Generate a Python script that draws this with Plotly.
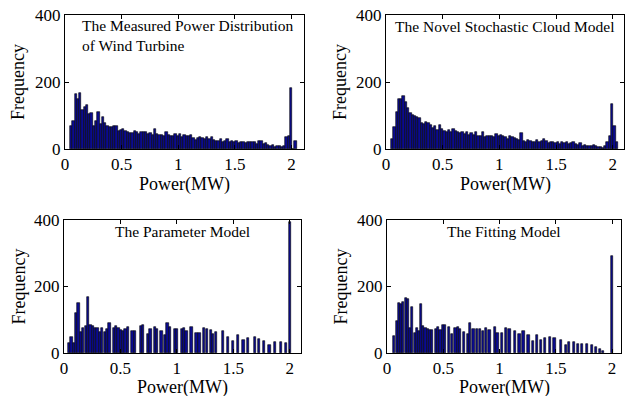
import plotly.graph_objects as go

W, H = 625, 396
FONT = "Liberation Serif"

# ---------------- data ----------------
# Measured power distribution (bins of 0.02 MW starting at 0.055 MW)
measured_start = 0.055
measured_step = 0.02
measured = [70, 85, 165, 150, 168, 115, 125, 130, 105, 108,
            70, 85, 110, 75, 95, 78, 68, 67, 65, 68,
            68, 55, 58, 60, 55, 50, 48, 48, 55, 50,
            45, 52, 50, 52, 45, 48, 42, 60, 45, 42,
            42, 40, 50, 42, 40, 40, 45, 40, 45, 35,
            42, 38, 40, 42, 32, 28, 32, 35, 32, 30,
            35, 30, 35, 28, 25, 25, 30, 22, 25, 30,
            22, 25, 22, 25, 18, 20, 22, 18, 20, 20,
            20, 22, 15, 25, 25, 15, 18, 12, 10, 12,
            5, 10, 8, 5, 8, 35, 40, 183, 0, 25]

# Novel stochastic cloud model (bins of 0.02 MW starting at 0.055 MW)
cloud_start = 0.055
cloud_step = 0.02
cloud = [30, 65, 110, 150, 148, 158, 140, 122, 108, 103,
         98, 96, 92, 78, 75, 80, 78, 72, 62, 68,
         58, 72, 60, 55, 52, 58, 50, 60, 55, 52,
         48, 52, 45, 50, 42, 48, 42, 50, 40, 38,
         50, 35, 40, 38, 40, 35, 45, 40, 42, 38,
         35, 30, 38, 35, 32, 30, 28, 48, 25, 22,
         28, 25, 20, 22, 28, 22, 25, 30, 25, 18,
         22, 20, 18, 22, 15, 20, 18, 22, 15, 18,
         20, 15, 12, 18, 10, 12, 8, 10, 8, 12,
         10, 5, 5, 3, 8, 20, 40, 135, 68, 20]

# Parameter model
param_x = [0.045, 0.066, 0.087, 0.108, 0.129, 0.150, 0.171, 0.192, 0.213, 0.234,
           0.255, 0.276, 0.297, 0.318, 0.339, 0.360, 0.381, 0.402, 0.440, 0.461,
           0.482, 0.503, 0.524, 0.545, 0.566, 0.606, 0.627, 0.680, 0.700, 0.745,
           0.766, 0.805, 0.826, 0.864, 0.897, 0.917, 0.938, 0.982, 1.003, 1.044,
           1.062, 1.086, 1.130, 1.174, 1.200, 1.240, 1.270, 1.300, 1.320, 1.350,
           1.410, 1.450, 1.500, 1.540, 1.590, 1.630, 1.690, 1.730, 1.770, 1.820,
           1.870, 1.920, 1.970, 2.000]
param_y = [31, 49, 31, 119, 149, 64, 74, 82, 167, 83,
           81, 74, 74, 64, 74, 64, 71, 89, 74, 82,
           74, 69, 66, 71, 79, 67, 67, 82, 84, 56,
           72, 78, 72, 66, 54, 89, 79, 71, 72, 72,
           74, 67, 79, 61, 59, 74, 73, 69, 56, 64,
           67, 48, 36, 55, 39, 46, 47, 42, 36, 24,
           32, 33, 31, 394]

# Fitting model
fit_x = [0.065, 0.086, 0.104, 0.124, 0.145, 0.166, 0.186, 0.204, 0.225, 0.246,
         0.266, 0.284, 0.302, 0.322, 0.343, 0.364, 0.385, 0.402, 0.435, 0.456,
         0.476, 0.497, 0.518, 0.553, 0.577, 0.609, 0.630, 0.651, 0.686, 0.722,
         0.740, 0.769, 0.799, 0.828, 0.852, 0.882, 0.911, 0.962, 0.982, 1.021,
         1.059, 1.089, 1.139, 1.178, 1.213, 1.257, 1.296, 1.331, 1.367, 1.405,
         1.450, 1.488, 1.544, 1.590, 1.621, 1.663, 1.701, 1.731, 1.775, 1.820,
         1.858, 1.893, 1.923, 1.997]
fit_y = [51, 96, 149, 146, 154, 164, 161, 74, 139, 59,
         74, 67, 147, 82, 75, 71, 69, 69, 72, 79,
         69, 84, 84, 79, 56, 74, 79, 71, 64, 56,
         89, 71, 73, 71, 67, 74, 69, 79, 59, 61,
         74, 72, 67, 57, 66, 54, 37, 54, 39, 45,
         47, 44, 39, 24, 34, 34, 26, 26, 27, 24,
         17, 11, 7, 292]

titles = ["The Measured Power Distribution<br>of Wind Turbine",
          "The Novel Stochastic Cloud Model",
          "The Parameter Model",
          "The Fitting Model"]
x_ticks = [0, 0.5, 1, 1.5, 2]
x_ticklabels = ["0", "0.5", "1", "1.5", "2"]
y_ticks = [0, 200, 400]
x_title = "Power(MW)"
y_title = "Frequency"

# ---------------- layout geometry (pixels) ----------------
# (left, right, top, bottom, xmax)
boxes = [(65, 304, 15, 149, 2.11),
         (386, 624, 15, 149, 2.10),
         (64, 301, 220, 353, 2.10),
         (387, 621, 220, 353, 2.08)]

BAR_FILL = "#0b0b8f"
EDGE = dict(color="black", width=0.6)

fig = go.Figure()
fig.add_trace(go.Bar(y=measured, x0=measured_start, dx=measured_step,
                     width=measured_step, marker=dict(color=BAR_FILL, line=EDGE),
                     xaxis="x", yaxis="y", showlegend=False))
fig.add_trace(go.Bar(y=cloud, x0=cloud_start, dx=cloud_step,
                     width=cloud_step, marker=dict(color=BAR_FILL, line=EDGE),
                     xaxis="x2", yaxis="y2", showlegend=False))
fig.add_trace(go.Bar(x=param_x, y=param_y, width=0.02,
                     marker=dict(color=BAR_FILL, line=EDGE),
                     xaxis="x3", yaxis="y3", showlegend=False))
fig.add_trace(go.Bar(x=fit_x, y=fit_y, width=0.02,
                     marker=dict(color=BAR_FILL, line=EDGE),
                     xaxis="x4", yaxis="y4", showlegend=False))

layout = dict(width=W, height=H, margin=dict(l=0, r=0, t=0, b=0),
              paper_bgcolor="white", plot_bgcolor="white",
              font=dict(family=FONT, color="black", size=17),
              bargap=0, showlegend=False)

for i, (l, r, t, b, xmax) in enumerate(boxes):
    s = "" if i == 0 else str(i + 1)
    layout["xaxis" + s] = dict(
        domain=[l / W, r / W], anchor="y" + s, range=[0, xmax],
        tickvals=x_ticks, ticktext=x_ticklabels, ticks="inside", ticklen=4,
        tickcolor="black", showline=True, linecolor="black", linewidth=1,
        mirror="ticks", showgrid=False, zeroline=False, automargin=False,
        tickfont=dict(size=17, family=FONT))
    layout["yaxis" + s] = dict(
        domain=[(H - b) / H, (H - t) / H], anchor="x" + s, range=[0, 400],
        tickvals=y_ticks, ticks="inside", ticklen=4, tickcolor="black",
        showline=True, linecolor="black", linewidth=1, mirror="ticks",
        showgrid=False, zeroline=False, automargin=False,
        tickfont=dict(size=17, family=FONT))

fig.update_layout(**layout)

# axis titles (placed as annotations so they are not clipped by zero margins)
for i, (l, r, t, b, xmax) in enumerate(boxes):
    xt_y = 184.5 if i < 2 else 387.5
    fig.add_annotation(text=x_title, xref="paper", yref="paper",
                       x=(l + r) / 2 / W, y=(H - xt_y) / H,
                       xanchor="center", yanchor="middle", showarrow=False,
                       borderpad=0,
                       font=dict(size=18, family=FONT, color="black"))
    yt_x = 18 if i % 2 == 0 else 340
    fig.add_annotation(text=y_title, xref="paper", yref="paper",
                       x=yt_x / W, y=(H - (t + b) / 2) / H, textangle=-90,
                       xanchor="center", yanchor="middle", showarrow=False,
                       font=dict(size=18, family=FONT, color="black"))

# in-plot titles
fig.add_annotation(text=titles[0], xref="paper", yref="paper",
                   x=80 / W, y=(H - 15) / H, xanchor="left", yanchor="top",
                   align="left", showarrow=False,
                   font=dict(size=15.5, family=FONT, color="black"))
for i, (cx, ty) in zip([1, 2, 3], [(505, 16), (182, 221), (504, 221)]):
    fig.add_annotation(text=titles[i], xref="paper", yref="paper",
                       x=cx / W, y=(H - ty) / H, xanchor="center", yanchor="top",
                       showarrow=False,
                       font=dict(size=15.5, family=FONT, color="black"))

fig.write_html("out.html")
